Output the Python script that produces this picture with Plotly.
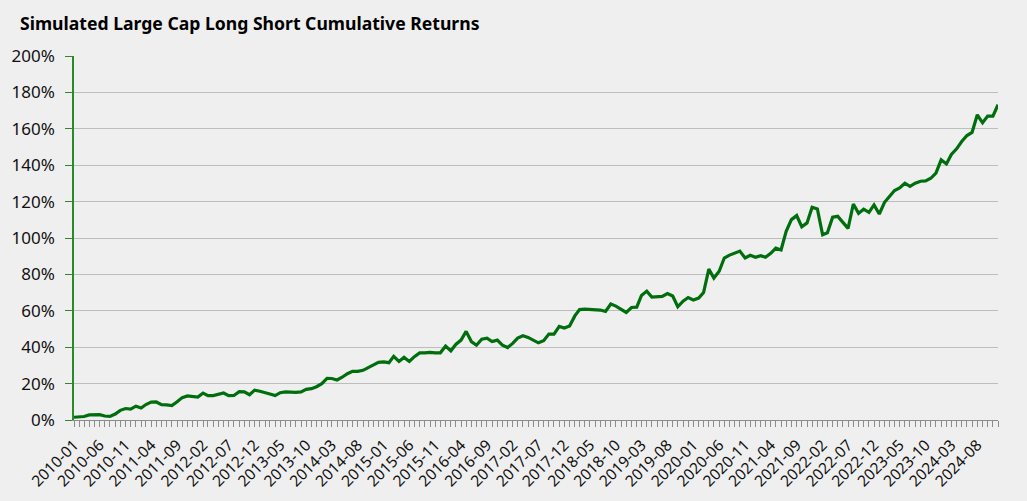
import pandas as pd
import plotly.graph_objects as go

months = pd.date_range("2010-01-01", "2024-12-01", freq="MS").strftime("%Y-%m-%d").tolist()

cum_return_pct = [
    1.5, 1.5, 1.9, 2.8, 2.9, 2.9, 2.2, 2.0, 3.3, 5.3,
    6.3, 6.0, 7.6, 6.6, 8.5, 9.8, 9.9, 8.4, 8.3, 7.9,
    10.0, 12.3, 13.2, 13.1, 12.6, 14.8, 13.4, 13.4, 14.3, 14.8,
    13.4, 13.5, 15.6, 15.5, 13.9, 16.4, 15.8, 14.8, 14.3, 13.4,
    15.0, 15.4, 15.2, 15.2, 15.4, 16.8, 17.2, 18.3, 20.0, 22.9,
    22.8, 22.0, 23.5, 25.4, 26.7, 26.7, 27.3, 28.7, 30.5, 31.7,
    31.9, 31.5, 35.0, 32.2, 34.4, 32.2, 34.8, 36.9, 36.9, 37.2,
    36.9, 36.9, 40.6, 38.0, 41.5, 43.9, 48.7, 43.1, 41.1, 44.4,
    45.0, 43.1, 43.9, 41.1, 39.8, 42.2, 45.0, 46.3, 45.4, 43.9,
    42.4, 43.6, 47.2, 47.2, 51.4, 50.5, 51.6, 57.2, 60.7, 60.9,
    60.7, 60.9, 60.4, 59.6, 63.7, 62.6, 60.7, 59.1, 61.8, 62.0,
    68.4, 70.8, 67.5, 67.9, 67.9, 69.5, 68.1, 62.2, 65.3, 67.3,
    65.9, 67.0, 70.0, 82.9, 78.0, 81.7, 89.0, 90.6, 91.7, 92.8,
    89.0, 90.5, 89.4, 90.3, 89.4, 91.6, 94.4, 93.4, 103.7, 110.1,
    112.3, 106.2, 108.3, 116.9, 116.0, 101.8, 102.9, 111.4, 111.9, 108.6,
    105.3, 118.7, 113.6, 115.8, 114.1, 118.2, 113.2, 119.6, 123.0, 126.1,
    127.5, 130.1, 128.4, 130.1, 131.2, 131.4, 132.8, 135.6, 142.9, 140.7,
    145.9, 149.0, 153.0, 156.3, 158.0, 167.7, 163.3, 167.0, 167.0, 173.2,
]

y_ticks = list(range(0, 201, 20))
title_text = "Simulated Large Cap Long Short Cumulative Returns"

BG = "#efefef"
LINE_GREEN = "#006e0c"
AXIS_GREEN = "#2a8a2a"
FONT = "Noto Sans"

fig = go.Figure()
fig.add_trace(go.Scatter(
    x=months, y=cum_return_pct, mode="lines",
    line=dict(color=LINE_GREEN, width=3.2),
    hoverinfo="skip", showlegend=False,
))

fig.update_layout(
    width=1027, height=501,
    paper_bgcolor=BG, plot_bgcolor=BG,
    margin=dict(l=74, r=29, t=56, b=81),
    font=dict(family=FONT, color="#111111"),
    title=dict(
        text="<b>" + title_text + "</b>",
        x=20 / 1027, xref="container", xanchor="left",
        y=1 - 24 / 501, yref="container", yanchor="middle",
        font=dict(size=17.6, family=FONT, color="#000000"),
    ),
)

fig.update_xaxes(
    type="date",
    range=[months[0], months[-1]],
    tick0=months[0], dtick="M5", tickformat="%Y-%m",
    tickangle=-45,
    tickfont=dict(size=15.5, family=FONT, color="#111111"),
    ticklabelstandoff=3,
    automargin=False,
    showgrid=False, zeroline=False,
    showline=True, linecolor="#8c8c8c", linewidth=1,
    ticks="outside", ticklen=6, tickcolor="#8c8c8c",
    minor=dict(ticks="outside", dtick="M1", tick0=months[0],
               ticklen=6, tickcolor="#8c8c8c", showgrid=False),
)
fig.update_yaxes(
    range=[0, 200],
    tickvals=y_ticks, ticktext=[f"{v}%" for v in y_ticks],
    tickfont=dict(size=17, family=FONT, color="#111111"),
    ticklabelstandoff=7,
    automargin=False,
    showgrid=True, gridcolor="#bdbdbd", gridwidth=1,
    zeroline=False,
    showline=True, linecolor=AXIS_GREEN, linewidth=1.5,
    ticks="outside", ticklen=7, tickcolor=AXIS_GREEN,
)

fig.write_html("out.html")
